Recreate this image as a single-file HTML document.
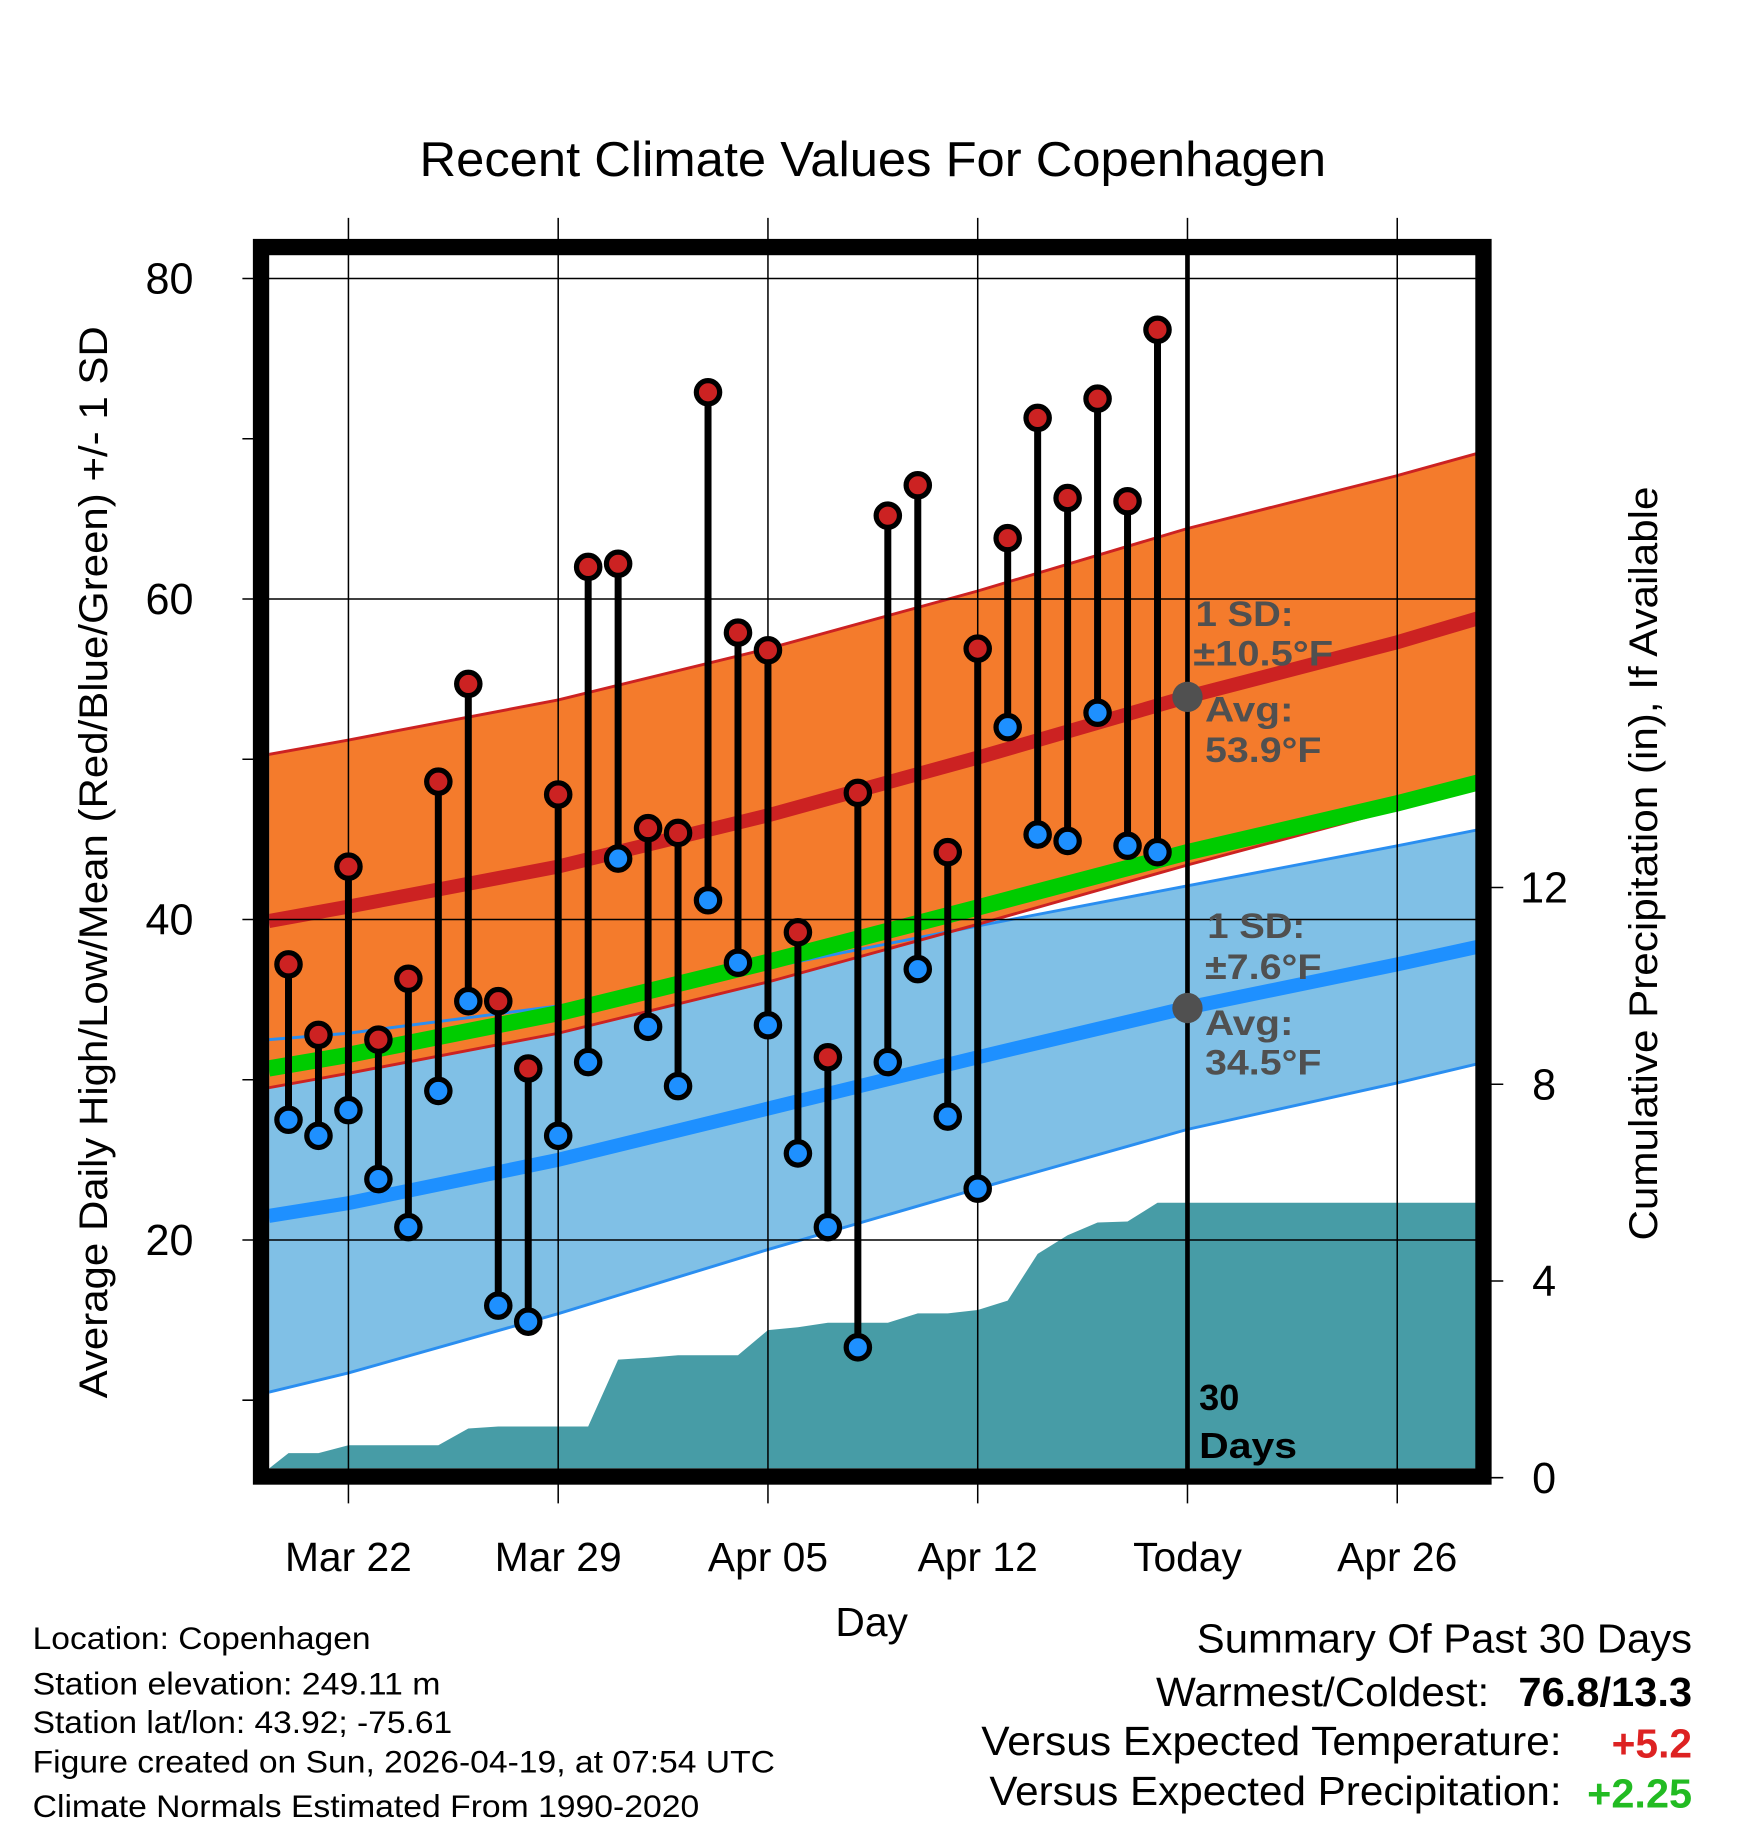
<!DOCTYPE html>
<html><head><meta charset="utf-8"><style>
html,body{margin:0;padding:0;background:#fff;}
svg{display:block;font-family:"Liberation Sans",sans-serif;}
</style></head><body>
<svg id="chart" width="1748" height="1828" viewBox="0 0 1500 1568.6" preserveAspectRatio="none" xmlns="http://www.w3.org/2000/svg">
</svg>
<script>
const days=[-2,-1,0,1,2,3,4,5,6,7,8,9,10,11,12,13,14,15,16,17,18,19,20,21,22,23,24,25,26,27];
const highs=[37.2,32.8,43.3,32.5,36.3,48.6,54.7,34.9,30.7,47.8,62.0,62.2,45.7,45.4,72.9,57.9,56.8,39.2,31.4,47.9,65.2,67.1,44.2,56.9,63.8,71.3,66.3,72.5,66.1,76.8];
const lows=[27.5,26.5,28.1,23.8,20.8,29.3,34.9,15.9,14.9,26.5,31.1,43.8,33.3,29.6,41.2,37.3,33.4,25.4,20.8,13.3,31.1,36.9,27.7,23.2,52.0,45.3,44.9,52.9,44.6,44.2];
const precip=[0.5,0.5,0.66,0.66,0.66,0.66,1.0,1.04,1.04,1.04,1.04,2.4,2.44,2.49,2.49,2.49,3.0,3.06,3.15,3.15,3.15,3.34,3.34,3.41,3.6,4.55,4.93,5.19,5.21,5.59];
const normDays=[-2.66,0,7,14,21,28,35,37.7];
const normHigh=[39.9,40.8,43.3,46.5,50.1,53.9,57.3,58.8];
const normHighSD=[10.4,10.4,10.4,10.4,10.4,10.5,10.4,10.3];
const normLow=[21.5,22.3,25.0,28.2,31.4,34.5,37.2,38.3];
const normLowSD=[11.0,10.6,9.6,8.8,8.2,7.6,7.4,7.3];
const xTickDays=[0,7,14,21,28,35];
const xTickLabels=["Mar 22","Mar 29","Apr 05","Apr 12","Today","Apr 26"];
const yTicks=[20,40,60,80];
const yMinor=[10,30,50,70];
const pTicks=[0,4,8,12];

const L=231,R=1268,T=219,B=1260;
const X=d=>299+d*180/7;
const Y=v=>239+(80-v)*13.75;
const P=p=>1268-p*42.2;
const svg=document.getElementById('chart');
const NS='http://www.w3.org/2000/svg';
function mk(tag,attrs,parent){const e=document.createElementNS(NS,tag);for(const k in attrs)e.setAttribute(k,attrs[k]);(parent||svg).appendChild(e);return e;}
function txt(s,attrs){const e=mk('text',attrs);e.textContent=s;return e;}
function pts(arr,f){return normDays.map((d,i)=>X(d)+','+Y(f(i))).join(' ');}

let e;
const defs=mk('defs',{});const cp=mk('clipPath',{id:'cp'},defs);mk('rect',{x:L,y:T,width:R-L,height:B-T},cp);
const g=mk('g',{'clip-path':'url(#cp)'});
e=mk('polygon',{points:pts(0,i=>normLow[i]+normLowSD[i])+' '+normDays.map((d,i)=>X(d)+','+Y(normLow[i]-normLowSD[i])).reverse().join(' '),fill:'#80c0e6'},g);

e=mk('polygon',{points:pts(0,i=>normHigh[i]+normHighSD[i])+' '+normDays.map((d,i)=>X(d)+','+Y(normHigh[i]-normHighSD[i])).reverse().join(' '),fill:'#f47b2c'},g);

e=mk('polygon',{points:pts(0,i=>normHigh[i]-normHighSD[i])+' '+normDays.map((d,i)=>X(d)+','+Y(Math.min(normLow[i]+normLowSD[i],normHigh[i]-normHighSD[i]))).reverse().join(' '),fill:'#fff'},g);
[['#2a8ef0',i=>normLow[i]+normLowSD[i]],['#2a8ef0',i=>normLow[i]-normLowSD[i]],['#cc2222',i=>normHigh[i]+normHighSD[i]],['#cc2222',i=>normHigh[i]-normHighSD[i]]].forEach(([c,f])=>{mk('polyline',{points:pts(0,f),fill:'none',stroke:c,'stroke-width':2.5},g);});
let pp=[L+','+B,L+','+B];
days.forEach((d,i)=>pp.push(X(d)+','+P(precip[i])));
pp.push(R+','+P(precip[precip.length-1]));pp.push(R+','+B);
e=mk('polygon',{points:pp.join(' '),fill:'#479ca6'},g);

e=mk('polyline',{points:pts(0,i=>(normHigh[i]+normLow[i])/2),fill:'none',stroke:'#00cc00','stroke-width':14},g);

e=mk('polyline',{points:pts(0,i=>normHigh[i]),fill:'none',stroke:'#cc2222','stroke-width':12},g);

e=mk('polyline',{points:pts(0,i=>normLow[i]),fill:'none',stroke:'#1e90ff','stroke-width':12},g);

xTickDays.forEach(d=>{mk('line',{x1:X(d),x2:X(d),y1:187,y2:1290,stroke:'#000','stroke-width':1.3});});
yTicks.forEach(v=>{mk('line',{x1:208,x2:R,y1:Y(v),y2:Y(v),stroke:'#000','stroke-width':1.3});});
yMinor.forEach(v=>{mk('line',{x1:208,x2:222,y1:Y(v),y2:Y(v),stroke:'#000','stroke-width':1.3});});
pTicks.forEach(p=>{mk('line',{x1:1276,x2:1290,y1:P(p),y2:P(p),stroke:'#000','stroke-width':1.3});});
mk('line',{x1:1019,x2:1019,y1:212,y2:1262,stroke:'#000','stroke-width':4});
days.forEach((d,i)=>{
 e=mk('line',{x1:X(d),x2:X(d),y1:Y(highs[i]),y2:Y(lows[i]),stroke:'#000','stroke-width':6});
 
 
});
days.forEach((d,i)=>{
 e=mk('circle',{cx:X(d),cy:Y(highs[i]),r:10,fill:'#cc2222',stroke:'#000','stroke-width':4.5});
 
 
 e=mk('circle',{cx:X(d),cy:Y(lows[i]),r:10,fill:'#1e90ff',stroke:'#000','stroke-width':4.5});
 
 
});
e=mk('rect',{x:224,y:212,width:1049,height:1055,fill:'none',stroke:'#000','stroke-width':14});

const gray='#505050';
mk('circle',{cx:1019,cy:598,r:13,fill:gray});
mk('circle',{cx:1019,cy:865,r:13,fill:gray});
const ann=[["1 SD:",1026,537,84],["±10.5°F",1024,571,120],["Avg:",1034,619,76],["53.9°F",1034,654,100],["1 SD:",1036,805,84],["±7.6°F",1034,840,100],["Avg:",1034,888,76],["34.5°F",1034,922,100]];
ann.forEach(a=>{e=txt(a[0],{x:a[1],y:a[2],'font-size':30,'font-weight':'bold',fill:gray,textLength:a[3],lengthAdjust:'spacingAndGlyphs'});});
txt("30",{x:1029,y:1210,'font-size':31,'font-weight':'bold'});
txt("Days",{x:1029,y:1251,'font-size':31,'font-weight':'bold',textLength:84,lengthAdjust:'spacingAndGlyphs'});
e=txt("Recent Climate Values For Copenhagen",{x:360,y:151,'font-size':42,textLength:778,lengthAdjust:'spacingAndGlyphs'});
xTickDays.forEach((d,i)=>{e=txt(xTickLabels[i],{x:X(d),y:1348,'font-size':35,'text-anchor':'middle'});});
yTicks.forEach(v=>{e=txt(String(v),{x:166,y:Y(v)+13,'font-size':37,'text-anchor':'end'});});
pTicks.forEach(p=>{e=txt(String(p),{x:1325,y:P(p)+13,'font-size':37,'text-anchor':'middle'});});
e=txt("Day",{x:748,y:1404,'font-size':35,'text-anchor':'middle'});
e=txt("Average Daily High/Low/Mean (Red/Blue/Green) +/- 1 SD",{x:0,y:0,'font-size':34,'text-anchor':'middle',textLength:920,lengthAdjust:'spacingAndGlyphs',transform:'translate(92,740) rotate(-90)'});
e=txt("Cumulative Precipitation (in), If Available",{x:0,y:0,'font-size':34,'text-anchor':'middle',textLength:647,lengthAdjust:'spacingAndGlyphs',transform:'translate(1422,741) rotate(-90)'});
const info=[["Location: Copenhagen",1415,290],["Station elevation: 249.11 m",1454,350],["Station lat/lon: 43.92; -75.61",1487,360],["Figure created on Sun, 2026-04-19, at 07:54 UTC",1521,637],["Climate Normals Estimated From 1990-2020",1559,572]];
info.forEach(a=>{e=txt(a[0],{x:28,y:a[1],'font-size':27,textLength:a[2],lengthAdjust:'spacingAndGlyphs'});});
const summ=[["Summary Of Past 30 Days",1027,1418,425,'normal','#000'],["Warmest/Coldest:",992,1464,286,'normal','#000'],["76.8/13.3",1303,1464,149,'bold','#000'],["Versus Expected Temperature:",842,1506,498,'normal','#000'],["+5.2",1383,1508,69,'bold','#dd2222'],["Versus Expected Precipitation:",849,1549,491,'normal','#000'],["+2.25",1362,1551,90,'bold','#22bb22']];
summ.forEach(a=>{e=txt(a[0],{x:a[1],y:a[2],'font-size':35,'font-weight':a[4],fill:a[5],textLength:a[3],lengthAdjust:'spacingAndGlyphs'});});
</script>
</body></html>
